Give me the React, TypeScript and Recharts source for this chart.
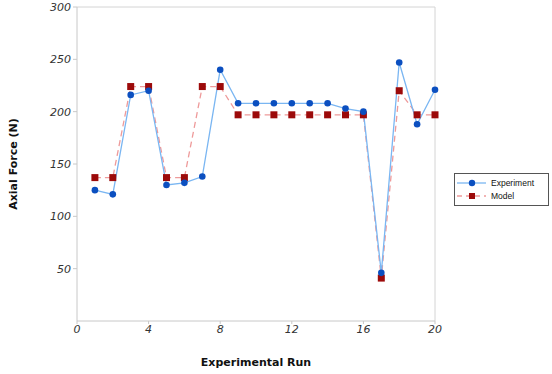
import React from "react";
import { LineChart, Line, XAxis, YAxis, ReferenceLine } from "recharts";

const runs = [1, 2, 3, 4, 5, 6, 7, 8, 9, 10, 11, 12, 13, 14, 15, 16, 17, 18, 19, 20];
const experiment = [125, 121, 216, 220, 130, 132, 138, 240, 208, 208, 208, 208, 208, 208, 203, 200, 46, 247, 188, 221];
const model = [137, 137, 224, 224, 137, 137, 224, 224, 197, 197, 197, 197, 197, 197, 197, 197, 41, 220, 197, 197];
const xTicks = [0, 4, 8, 12, 16, 20];
const yTicks = [50, 100, 150, 200, 250, 300];

const data = runs.map((r, i) => ({ run: r, experiment: experiment[i], model: model[i] }));

const EXP_LINE = "#7ab6f2";
const EXP_DOT = "#0b4fc0";
const MOD_LINE = "#ee9a9a";
const MOD_DOT = "#9c0a0a";

const tickStyle = { fill: "#333", fontSize: 11, fontStyle: "italic", fontFamily: "DejaVu Sans" };

const SquareDot = (props: any) => {
  const { cx, cy, index } = props;
  if (cx == null || cy == null) return null;
  return <rect key={"sq" + index} x={cx - 3.5} y={cy - 3.5} width={7} height={7} fill={MOD_DOT} />;
};

const YTitle = (props: any) => {
  const { viewBox } = props;
  const cy = viewBox.y + viewBox.height / 2;
  return (
    <text
      x={17}
      y={cy}
      transform={`rotate(-90, 17, ${cy})`}
      textAnchor="middle"
      fontFamily="DejaVu Sans"
      fontWeight="bold"
      fontSize={11}
      fill="#111"
    >
      Axial Force (N)
    </text>
  );
};

// legend drawn as an overlay box, like the original
const LegendBox = () => (
  <div
    style={{
      position: "absolute",
      left: 454,
      top: 173,
      border: "1px solid #555",
      width: 95,
      height: 33,
      background: "#fff",
      fontFamily: "Liberation Sans",
      fontSize: 8.5,
      color: "#111",
      boxSizing: "border-box",
      paddingTop: 2,
    }}
  >
    <div style={{ display: "flex", alignItems: "center", height: 13 }}>
      <svg width={34} height={10} style={{ marginLeft: 0 }}>
        <line x1={2} y1={5} x2={31} y2={5} stroke={EXP_LINE} strokeWidth={1.3} />
        <circle cx={17} cy={5} r={3.2} fill={EXP_DOT} />
      </svg>
      <span style={{ marginLeft: 2 }}>Experiment</span>
    </div>
    <div style={{ display: "flex", alignItems: "center", height: 13 }}>
      <svg width={34} height={10} style={{ marginLeft: 0 }}>
        <line x1={2} y1={5} x2={31} y2={5} stroke={MOD_LINE} strokeWidth={1.3} strokeDasharray="5 4" />
        <rect x={14} y={2} width={6} height={6} fill={MOD_DOT} />
      </svg>
      <span style={{ marginLeft: 2 }}>Model</span>
    </div>
  </div>
);

export default function App() {
  return (
    <div style={{ position: "absolute", left: 0, top: 0, width: 552, height: 374, background: "#fff" }}>
      <LineChart width={552} height={374} data={data} margin={{ top: 7, right: 117, bottom: 0, left: 0 }}>
        <XAxis
          dataKey="run"
          type="number"
          domain={[0, 20]}
          ticks={xTicks}
          tick={tickStyle}
          tickSize={3}
          tickMargin={1}
          stroke="#c8c8c8"
          height={53}
          label={{
            value: "Experimental Run",
            position: "insideBottom",
            offset: 8,
            fontFamily: "DejaVu Sans",
            fontWeight: "bold",
            fontSize: 11,
            fill: "#111",
          }}
        />
        <YAxis
          type="number"
          domain={[0, 300]}
          ticks={yTicks}
          tick={tickStyle}
          tickSize={4}
          tickMargin={2}
          stroke="#c8c8c8"
          width={77}
          label={<YTitle />}
        />
        <ReferenceLine y={300} stroke="#d4d4d4" />
        <ReferenceLine x={20} stroke="#d4d4d4" />
        <Line
          dataKey="model"
          stroke={MOD_LINE}
          strokeWidth={1.3}
          strokeDasharray="6 4"
          dot={<SquareDot />}
          isAnimationActive={false}
        />
        <Line
          dataKey="experiment"
          stroke={EXP_LINE}
          strokeWidth={1.3}
          dot={{ r: 3.3, fill: EXP_DOT, stroke: "none" }}
          isAnimationActive={false}
        />
      </LineChart>
      <LegendBox />
    </div>
  );
}
